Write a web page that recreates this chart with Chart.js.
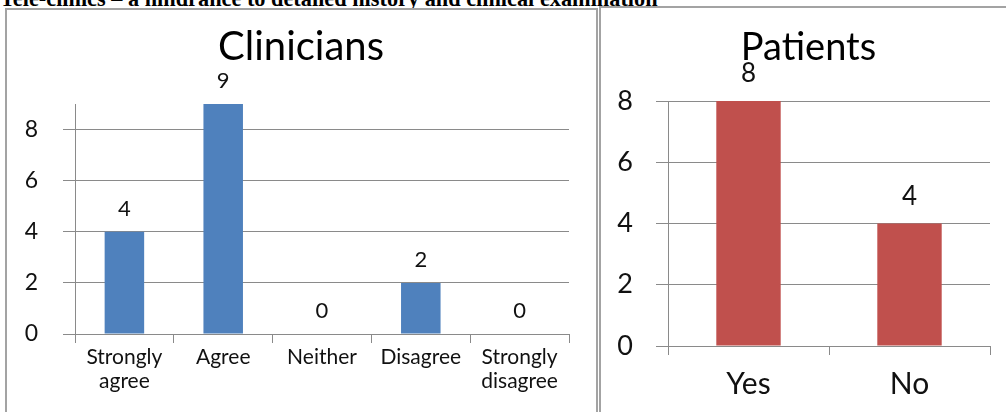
<!DOCTYPE html>
<html>
<head>
<meta charset="utf-8">
<script src="https://cdn.jsdelivr.net/npm/chart.js@4.4.1/dist/chart.umd.min.js"></script>
<style>
  html, body { margin: 0; padding: 0; background: #fff; }
  body { width: 1006px; height: 412px; position: relative; overflow: hidden; }
  #heading { position: absolute; left: 0; top: -12px; font: bold 22.3px "Liberation Serif", serif; line-height: 22px; white-space: nowrap; color: #000; }
  .panel { position: absolute; border: 2px solid #a3a3a3; box-sizing: border-box; background: #fff; }
  #leftPanel { left: 5px; top: 8px; width: 593px; height: 420px; }
  #rightPanel { left: 599px; top: 6px; width: 420px; height: 420px; }
  canvas { position: absolute; }
  #clinCanvas { left: 7px; top: 10px; }
  #patCanvas { left: 601px; top: 8px; }
</style>
</head>
<body>
<div id="heading">Tele-clinics – a hindrance to detailed history and clinical examination</div>
<div class="panel" id="leftPanel"></div>
<div class="panel" id="rightPanel"></div>
<canvas id="clinCanvas" width="588" height="402"></canvas>
<canvas id="patCanvas" width="405" height="404"></canvas>
<script>
const clinicianLabels = [['Strongly', 'agree'], 'Agree', 'Neither', 'Disagree', ['Strongly', 'disagree']];
const clinicianCounts = [4, 9, 0, 2, 0];
const clinicianTicks = [0, 2, 4, 6, 8];

const patientLabels = ['Yes', 'No'];
const patientCounts = [8, 4];
const patientTicks = [0, 2, 4, 6, 8];

const FONT = 'Lato, "Open Sans", sans-serif';
const GRID = '#8a8a8a';

// numbers above each bar, plus the panel title centred on the panel
const valueLabels = {
    id: 'valueLabels',
    afterDatasetsDraw(chart, args, opts) {
        const ctx = chart.ctx;
        const meta = chart.getDatasetMeta(0);
        ctx.save();
        ctx.fillStyle = '#111';
        ctx.textAlign = 'center';
        ctx.textBaseline = 'middle';
        ctx.font = opts.size + 'px ' + FONT;
        meta.data.forEach((bar, i) => {
            ctx.fillText(chart.data.datasets[0].data[i], bar.x, bar.y - opts.offset);
        });
        ctx.fillStyle = '#000';
        ctx.font = opts.titleSize + 'px ' + FONT;
        ctx.fillText(opts.title, chart.width / 2 + opts.titleShift, opts.titleY);
        ctx.restore();
    }
};

function makeChart(canvasId, labels, values, ticks, color, s) {
    const ctx = document.getElementById(canvasId).getContext('2d');
    return new Chart(ctx, {
        type: 'bar',
        data: {
            labels: labels,
            datasets: [{
                data: values,
                backgroundColor: color,
                borderWidth: 0,
                categoryPercentage: 1,
                barPercentage: 0.4
            }]
        },
        options: {
            responsive: false,
            animation: false,
            layout: { padding: { left: 0, right: s.padRight, top: s.padTop, bottom: 0 } },
            plugins: {
                legend: { display: false },
                tooltip: { enabled: false },
                title: { display: false },
                valueLabels: {
                    size: s.valueSize, offset: s.valueOffset,
                    title: s.title, titleSize: s.titleSize, titleY: s.titleY, titleShift: s.titleShift
                }
            },
            scales: {
                x: {
                    grid: { display: true, offset: true, drawOnChartArea: false, drawTicks: true, tickLength: 9, color: GRID },
                    border: { display: true, color: GRID },
                    ticks: {
                        autoSkip: false, maxRotation: 0, color: '#111', padding: s.xPad,
                        font: { family: FONT, size: s.xFont, lineHeight: s.xLine }
                    },
                    afterFit(scale) { scale.height = s.xHeight; }
                },
                y: {
                    min: 0,
                    max: s.max,
                    grid: { color: GRID, tickLength: 12, drawTicks: true },
                    border: { display: true, color: GRID },
                    ticks: { color: '#111', padding: s.yPad, font: { family: FONT, size: s.yFont } },
                    afterBuildTicks(scale) { scale.ticks = ticks.map(v => ({ value: v })); },
                    afterFit(scale) { scale.width = s.yWidth; }
                }
            }
        },
        plugins: [valueLabels]
    });
}

makeChart('clinCanvas', clinicianLabels, clinicianCounts, clinicianTicks, '#4f81bd', {
    title: 'Clinicians', titleSize: 40, titleY: 37, titleShift: 0, padTop: 94, padRight: 26, max: 9,
    yWidth: 68, yFont: 23, yPad: 25, xHeight: 78, xFont: 21, xLine: 1.14, xPad: 2,
    valueSize: 22, valueOffset: 23
});

makeChart('patCanvas', patientLabels, patientCounts, patientTicks, '#c0504d', {
    title: 'Patients', titleSize: 38, titleY: 40, titleShift: 5, padTop: 93, padRight: 16, max: 8,
    yWidth: 67, yFont: 27, yPad: 23, xHeight: 66, xFont: 30, xLine: 1.2, xPad: 11,
    valueSize: 26, valueOffset: 27
});
</script>
</body>
</html>
